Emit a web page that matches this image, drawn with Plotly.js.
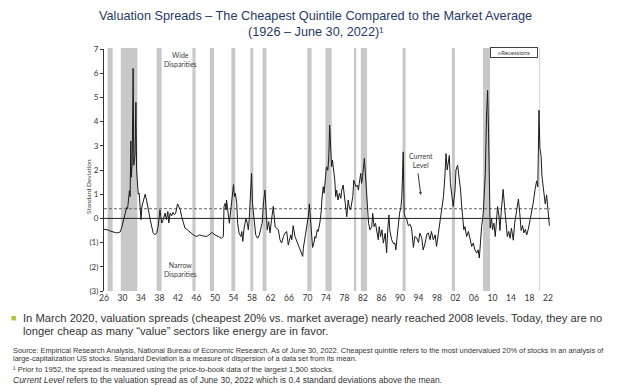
<!DOCTYPE html>
<html>
<head>
<meta charset="utf-8">
<script src="https://cdn.plot.ly/plotly-3.0.1.min.js"></script>
<style>html,body{margin:0;padding:0;background:#fff;}#chart{width:624px;height:385px;}</style>
</head>
<body>
<div id="chart"></div>
<script>
// ---- data ----
const years = [1926.0,1926.4,1926.9,1927.3,1927.7,1928.2,1928.7,1929.2,1929.5,1929.8,1930.2,1930.5,1930.9,1931.1,1931.3,1931.5,1931.65,1931.8,1931.9,1932.1,1932.3,1932.45,1932.7,1932.9,1933.05,1933.2,1933.4,1933.6,1933.8,1934.0,1934.2,1934.5,1934.9,1935.2,1935.5,1935.8,1936.0,1936.3,1936.6,1937.0,1937.4,1937.7,1938.0,1938.1,1938.3,1938.5,1938.8,1939.2,1939.5,1939.8,1940.0,1940.3,1940.6,1940.9,1941.2,1941.5,1941.9,1942.2,1942.5,1942.8,1943.1,1943.5,1943.9,1944.3,1944.8,1945.3,1946.0,1946.7,1947.3,1948.2,1948.7,1949.3,1950.0,1950.7,1951.4,1951.8,1951.95,1952.2,1952.4,1952.5,1952.9,1953.1,1953.5,1953.75,1954.0,1954.2,1954.4,1954.7,1954.9,1955.2,1955.6,1955.8,1956.0,1956.3,1956.7,1957.0,1957.2,1957.4,1957.7,1957.9,1958.1,1958.4,1958.8,1959.2,1959.6,1960.0,1960.2,1960.5,1960.8,1961.0,1961.3,1961.6,1961.9,1962.2,1962.6,1963.0,1963.3,1963.7,1964.05,1964.4,1964.8,1965.1,1965.5,1965.85,1966.1,1966.4,1966.6,1966.9,1967.3,1967.7,1968.0,1968.4,1968.7,1968.96,1969.1,1969.4,1969.7,1970.0,1970.2,1970.4,1970.6,1970.8,1971.1,1971.4,1971.6,1971.8,1972.1,1972.3,1972.7,1973.0,1973.1,1973.4,1973.6,1973.9,1974.1,1974.4,1974.6,1974.8,1975.0,1975.2,1975.4,1975.7,1975.9,1976.1,1976.3,1976.6,1976.9,1977.2,1977.4,1977.7,1978.0,1978.3,1978.5,1978.8,1979.0,1979.3,1979.5,1979.8,1980.0,1980.2,1980.5,1980.8,1981.0,1981.2,1981.5,1981.7,1981.9,1982.3,1982.5,1982.8,1983.0,1983.2,1983.5,1983.9,1984.1,1984.4,1984.7,1985.0,1985.3,1985.5,1985.8,1986.1,1986.4,1986.8,1987.1,1987.4,1987.6,1987.8,1988.2,1988.6,1988.9,1989.1,1989.4,1989.9,1990.2,1990.4,1990.55,1990.7,1990.8,1990.9,1991.1,1991.4,1991.8,1992.2,1992.5,1992.9,1993.2,1993.6,1994.0,1994.3,1994.7,1995.0,1995.4,1995.8,1996.1,1996.5,1996.8,1997.2,1997.6,1997.9,1998.3,1998.7,1999.0,1999.4,1999.7,1999.95,2000.2,2000.4,2000.66,2000.9,2001.2,2001.5,2001.9,2002.1,2002.45,2002.8,2003.1,2003.3,2003.55,2003.8,2004.05,2004.4,2004.8,2005.1,2005.5,2005.85,2006.2,2006.6,2006.9,2007.15,2007.4,2007.65,2008.0,2008.2,2008.45,2008.7,2008.95,2009.15,2009.3,2009.5,2009.8,2010.0,2010.3,2010.6,2010.9,2011.1,2011.4,2011.6,2011.9,2012.3,2012.6,2012.9,2013.2,2013.5,2013.8,2014.1,2014.5,2014.8,2015.2,2015.6,2015.9,2016.2,2016.5,2016.8,2017.1,2017.4,2017.8,2018.1,2018.5,2018.8,2019.2,2019.55,2019.8,2020.05,2020.25,2020.5,2020.7,2021.0,2021.2,2021.4,2021.7,2021.9,2022.1,2022.3,2022.45];
const spread = [-0.45,-0.46,-0.48,-0.52,-0.55,-0.58,-0.60,-0.58,-0.56,-0.40,-0.13,0.14,0.45,0.40,0.85,1.15,0.9,3.2,1.7,2.3,6.2,2.2,2.6,4.8,2.0,1.3,1.0,1.05,0.3,-0.05,0.5,0.7,1.0,0.75,0.5,0.15,-0.06,-0.4,-0.58,-0.68,-0.6,-0.34,0.1,0.35,0.07,-0.19,-0.05,0.22,-0.05,0.29,-0.19,0.22,0.1,0.25,0.15,0.22,0.6,0.49,0.35,0.07,-0.19,-0.4,-0.45,-0.52,-0.58,-0.68,-0.75,-0.68,-0.72,-0.75,-0.68,-0.58,-0.68,-0.75,-0.82,-0.75,0.49,0.62,0.35,0.76,0.22,-0.2,0.49,0.97,1.4,0.9,1.04,0.62,-0.2,-0.61,-0.75,-0.54,-0.95,-0.4,0.0,-0.2,-0.47,-0.06,1.17,1.86,0.62,-0.06,-0.68,-0.82,-0.68,-0.34,-0.2,0.69,1.17,0.49,-0.47,-0.13,-0.6,-0.1,0.5,-0.35,-0.4,-0.47,-0.88,-1.02,-0.75,-0.61,-0.54,-1.1,-0.9,-0.68,-0.88,-0.3,-0.75,-0.95,-1.16,-1.29,-1.45,-1.57,-1.23,-0.88,-0.54,-0.2,0.1,0.6,0.0,-0.6,-1.2,-1.0,-0.75,-0.82,-0.47,-0.54,-0.15,0.35,0.76,1.31,1.04,1.72,2.13,1.99,2.54,3.85,2.68,2.13,2.41,1.99,1.58,0.9,1.17,0.76,1.04,0.83,1.17,1.38,0.9,0.62,0.07,0.76,0.49,0.35,0.62,0.9,1.58,1.45,1.31,1.38,1.17,1.45,1.86,1.45,1.72,2.48,1.86,1.31,0.76,-0.2,-0.47,-0.34,0.21,-0.34,-0.2,-0.47,-0.88,-0.34,-0.75,-0.47,-1.02,-0.61,-1.43,-0.34,0.14,-0.5,-0.88,-1.05,-1.02,-1.3,-0.61,0.21,0.45,0.9,1.8,2.75,1.45,0.21,0.05,0.0,-0.3,-0.25,-0.4,-1.2,-0.75,-0.8,-1.0,-0.61,-0.8,-1.3,-1.05,-0.65,-0.6,-0.88,-0.54,-0.88,-0.68,-1.16,-0.61,-0.06,0.49,0.9,1.72,2.68,2.0,2.3,2.6,1.45,0.9,0.49,1.17,2.0,2.2,1.72,1.17,0.6,0.07,-0.47,-0.34,-0.75,-0.54,-0.88,-1.16,-1.02,-1.3,-1.43,-1.3,-1.64,-0.88,-0.34,0.21,0.9,1.86,4.19,5.29,3.5,1.0,-0.4,0.0,-0.47,-0.2,-0.75,0.0,0.49,0.1,-0.5,0.3,1.2,0.5,-0.3,-0.75,-0.54,-0.82,-0.4,-0.9,-0.2,0.3,0.8,0.2,-0.5,-0.3,-0.6,-0.45,-0.68,-0.4,-0.1,0.2,0.63,1.2,1.55,1.3,4.47,2.9,2.6,1.72,1.17,0.7,0.6,0.97,0.5,0.35,-0.3];
const recStart = [1926.79,1929.63,1937.38,1945.12,1948.88,1953.54,1957.63,1960.29,1969.96,1973.88,1980.04,1981.54,1990.54,2001.21,2007.96,2020.12];
const recEnd   = [1927.88,1933.21,1938.46,1945.79,1949.79,1954.38,1958.29,1961.13,1970.88,1975.21,1980.54,1982.88,1991.21,2001.88,2009.46,2020.29];
const currentLevel = 0.4;
const xTickVals = [1926,1930,1934,1938,1942,1946,1950,1954,1958,1962,1966,1970,1974,1978,1982,1986,1990,1994,1998,2002,2006,2010,2014,2018,2022];
const xTickText = ['26','30','34','38','42','46','50','54','58','62','66','70','74','78','82','86','90','94','98','02','06','10','14','18','22'];
const yTickVals = [7,6,5,4,3,2,1,0,-1,-2,-3];
const yTickText = ['7','6','5','4','3','2','1','0','(1)','(2)','(3)'];

// ---- layout geometry ----
const W = 624, H = 385;
const M = {l:104, r:72, t:49, b:94};
const PW = W - M.l - M.r, PH = H - M.t - M.b;
const px = x => (x - M.l) / PW;
const py = y => (H - M.b - y) / PH;

const shapes = recStart.map((s, i) => ({
  type:'rect', xref:'x', yref:'paper', x0:s, x1:recEnd[i], y0:0, y1:1.004,
  fillcolor:'#c8c8c8', line:{width:0}, layer:'below'
}));
shapes.push({type:'line', xref:'x', yref:'y', x0:1926, x1:2022.45, y0:currentLevel, y1:currentLevel,
  line:{color:'#666', width:1, dash:'3px,2px'}, layer:'below'});
shapes.push({type:'line', xref:'x', yref:'y', x0:1926, x1:2022.45, y0:0, y1:0,
  line:{color:'#222', width:1}, layer:'below'});

const smallFont = {family:'Lato, "Open Sans", sans-serif', size:7, color:'#404040'};
const arial = (s, c) => ({family:'Liberation Sans, Arial, sans-serif', size:s, color:c || '#333'});
const note = (x, y, text, f) => ({xref:'paper', yref:'paper', x:px(x), y:py(y), xanchor:'left', yanchor:'middle', showarrow:false, text:text, font:f});
const annotations = [
  {xref:'paper', yref:'paper', x:px(315), y:py(16), text:'Valuation Spreads – The Cheapest Quintile Compared to the Market Average', showarrow:false, font:arial(12.7,'#1f3a68'), xanchor:'center', yanchor:'middle'},
  {xref:'paper', yref:'paper', x:px(315), y:py(32), text:'(1926 – June 30, 2022)¹', showarrow:false, font:arial(12.7,'#1f3a68'), xanchor:'center', yanchor:'middle'},
  {xref:'paper', yref:'paper', x:px(180), y:py(60), text:'Wide<br>Disparities', showarrow:false, font:smallFont, xanchor:'center', yanchor:'middle'},
  {xref:'paper', yref:'paper', x:px(180), y:py(269), text:'Narrow<br>Disparities', showarrow:false, font:smallFont, xanchor:'center', yanchor:'middle'},
  {xref:'paper', yref:'paper', x:px(421), y:py(160), text:'Current<br>Level', showarrow:false, font:smallFont, xanchor:'center', yanchor:'middle'},
  {xref:'x', yref:'y', x:1994.5, y:0.97, ax:-3, ay:-23, text:'', showarrow:true, arrowhead:2, arrowsize:0.6, arrowwidth:1, arrowcolor:'#333', standoff:0},
  {xref:'paper', yref:'paper', x:px(490), y:py(47), xanchor:'left', yanchor:'top', showarrow:false,
   text:'<span style="color:#bdbdbd">■</span>Recessions', font:{family:'Lato, sans-serif', size:6, color:'#404040'},
   bordercolor:'#404040', borderwidth:1, bgcolor:'#fff', width:44, height:7, borderpad:1},
  {xref:'paper', yref:'paper', x:px(88), y:py(187), text:'Standard Deviation', textangle:-90, showarrow:false,
   font:{family:'Lato, "Open Sans", sans-serif', size:6.5, color:'#404040'}, xanchor:'center', yanchor:'middle'},
  note(9, 318, '<span style="color:#b4bf3a">■</span>', {family:'Liberation Sans, Arial, sans-serif', size:9}),
  note(21, 318, 'In March 2020, valuation spreads (cheapest 20% vs. market average) nearly reached 2008 levels. Today, they are no', arial(11.2)),
  note(21, 331, 'longer cheap as many “value” sectors like energy are in favor.', arial(11.2)),
  note(11, 350, 'Source: Empirical Research Analysis, National Bureau of Economic Research. As of June 30, 2022. Cheapest quintile refers to the most undervalued 20% of stocks in an analysis of', arial(7.4)),
  note(11, 358, 'large-capitalization US stocks. Standard Deviation is a measure of dispersion of a data set from its mean.', arial(7.4)),
  note(11, 369, '¹ Prior to 1952, the spread is measured using the price-to-book data of the largest 1,500 stocks.', arial(7.6)),
  note(11, 380, '<i>Current Level</i> refers to the valuation spread as of June 30, 2022 which is 0.4 standard deviations above the mean.', arial(8.5))
];

const trace = {x:years, y:spread, type:'scatter', mode:'lines', line:{color:'#1a1a1a', width:1}, hoverinfo:'skip', showlegend:false};

const layout = {
  width:W, height:H, margin:M, paper_bgcolor:'#fff', plot_bgcolor:'rgba(0,0,0,0)',
  showlegend:false,
  xaxis:{range:[1926, 1926 + PW/4.625], tickvals:xTickVals, ticktext:xTickText, showgrid:false, zeroline:false,
         showline:false, ticks:'', tickfont:{family:'Lato, sans-serif', size:8.5, color:'#333'}, fixedrange:true},
  yaxis:{range:[-3,7], tickvals:yTickVals, ticktext:yTickText, showgrid:false, zeroline:false, showline:true,
         linecolor:'#333', linewidth:1, ticks:'outside', ticklen:3, tickcolor:'#333',
         tickfont:{family:'Lato, sans-serif', size:8, color:'#333'}, fixedrange:true},
  shapes:shapes, annotations:annotations
};
Plotly.newPlot('chart', [trace], layout, {staticPlot:true, displayModeBar:false});
</script>
</body>
</html>
